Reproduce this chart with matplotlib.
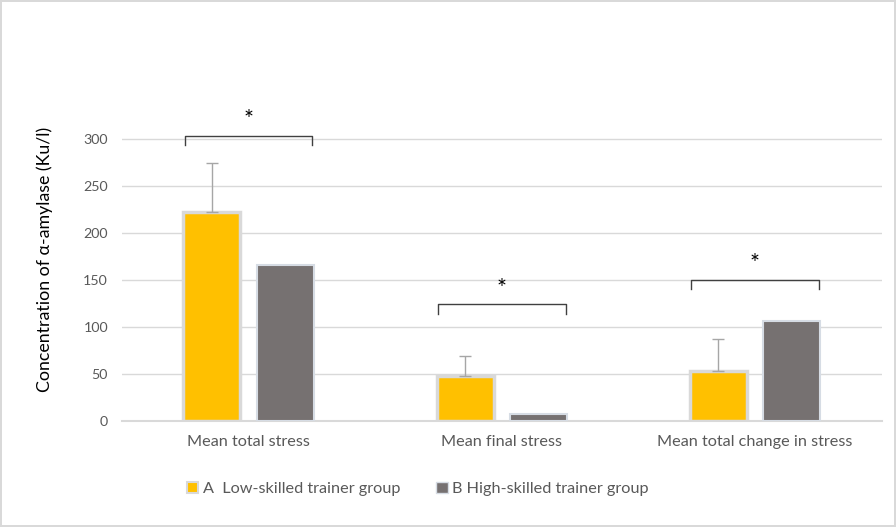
import matplotlib.pyplot as plt
import matplotlib.patches as mpatches
import numpy as np

plt.rcParams['font.family'] = ['Lato', 'DejaVu Sans']

categories = ["Mean total stress", "Mean final stress", "Mean total change in stress"]
group_a = [222, 48, 53]
group_a_err = [52, 21, 34]
group_b = [166, 8, 106]
labels = ["A  Low-skilled trainer group", "B High-skilled trainer group"]
brackets = [303, 124, 150]   # height of significance brackets
stars = ["*", "*", "*"]

COL_A = "#FFC000"
COL_B = "#767171"
TXT = "#595959"

fig = plt.figure(figsize=(8.96, 5.27), dpi=100)
fig.patch.set_edgecolor("#d9d9d9")
fig.patch.set_linewidth(1.5)
ax = fig.add_axes([0.136, 0.201, 0.848, 0.613])

x = np.arange(len(categories))
w = 0.225
off = 0.145
ax.bar(x - off, group_a, w, color=COL_A, edgecolor="#d9d9d9", linewidth=2.5, zorder=3)
ax.bar(x + off, group_b, w, color=COL_B, edgecolor="#d6dce4", linewidth=1.5, zorder=3)
ax.errorbar(x - off, group_a, yerr=[np.zeros(3), group_a_err], fmt="none",
            ecolor="#a6a6a6", elinewidth=1, capsize=4, capthick=1, zorder=4)

for i, h in enumerate(brackets):
    x0, x1 = i - off - w / 2 + 0.005, i + off + w / 2 - 0.005
    ax.plot([x0, x0, x1, x1], [h - 10, h, h, h - 10], color="#404040", lw=1, zorder=5)
    ax.text(i, h + 17, stars[i], ha="center", va="center", fontsize=17, color="black")

ax.set_xlim(-0.5, 2.5)
ax.set_ylim(0, 343)
ax.set_yticks(range(0, 301, 50))
ax.set_xticks(x)
ax.set_xticklabels(categories, fontsize=11.7, color=TXT)
ax.tick_params(axis="y", labelsize=10.3, colors=TXT, length=0, pad=10)
ax.tick_params(axis="x", length=0, pad=10)
ax.grid(axis="y", color="#d9d9d9", lw=1, zorder=0)
for s in ["top", "right", "left"]:
    ax.spines[s].set_visible(False)
ax.spines["bottom"].set_color("#d9d9d9")
ax.spines["bottom"].set_linewidth(1.5)
ax.set_ylabel("Concentration of α-amylase (Ku/l)", fontsize=12.8, color="black", labelpad=22)

handles = [mpatches.Patch(facecolor=COL_A, edgecolor="#d9d9d9", linewidth=1.5),
           mpatches.Patch(facecolor=COL_B, edgecolor="#d6dce4", linewidth=1)]
fig.legend(handles, labels, loc="center left", bbox_to_anchor=(0.192, 0.072), ncol=2,
           frameon=False, fontsize=11.7, labelcolor=TXT, handlelength=0.7, handleheight=0.7,
           handletextpad=0.3, columnspacing=2.2)

fig.savefig("out.png", dpi=100)
